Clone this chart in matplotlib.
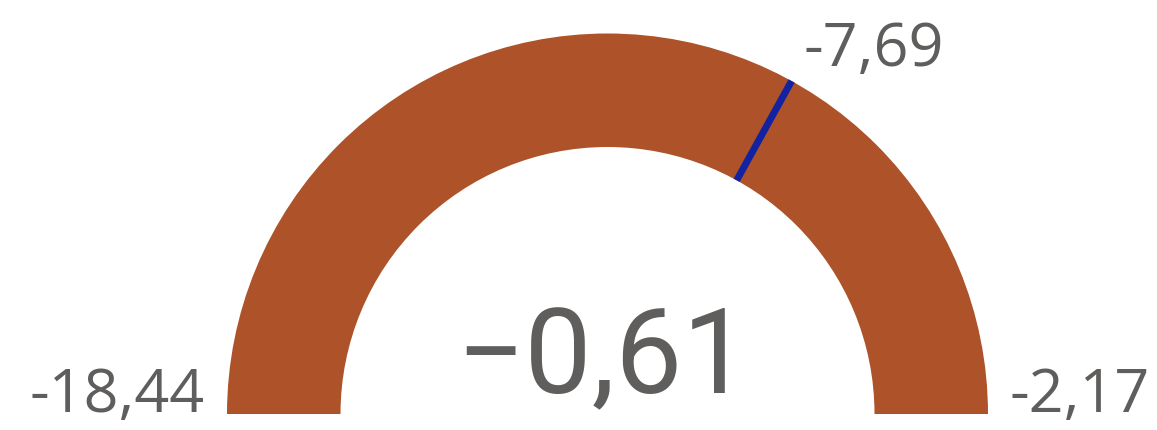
import numpy as np
import matplotlib.pyplot as plt
from matplotlib.patches import Wedge

# gauge values
gauge_min = -18.44
gauge_max = -2.17
gauge_value = -0.61
gauge_target = -7.69

fill_color = '#AD5229'
target_color = '#1322A0'
text_color = '#605E5C'


def fmt(v):
    # comma as decimal separator
    return f"{v:.2f}".replace('.', ',')


W, H = 1157, 431
fig = plt.figure(figsize=(W / 100, H / 100), dpi=100)
ax = fig.add_axes([0, 0, 1, 1])
ax.set_xlim(0, W)
ax.set_ylim(0, H)
ax.axis('off')

cx, cy = 607.5, H - 415
r_out, r_in = 380.5, 267

# fraction filled, clipped to the range
frac = np.clip((gauge_value - gauge_min) / (gauge_max - gauge_min), 0, 1)
ax.add_patch(Wedge((cx, cy), r_out, 180 - 180 * frac, 180, width=r_out - r_in,
                   facecolor=fill_color, edgecolor='none'))

# target marker
tfrac = (gauge_target - gauge_min) / (gauge_max - gauge_min)
ang = np.radians(180 - 180 * tfrac)
ax.plot([cx + r_in * np.cos(ang), cx + r_out * np.cos(ang)],
        [cy + r_in * np.sin(ang), cy + r_out * np.sin(ang)],
        color=target_color, lw=5, solid_capstyle='butt')

label_font = ['Open Sans', 'DejaVu Sans']
ax.text(205, H - 412, fmt(gauge_min), ha='right', va='baseline',
        fontsize=44, color=text_color, family=label_font)
ax.text(1010, H - 412, fmt(gauge_max), ha='left', va='baseline',
        fontsize=44, color=text_color, family=label_font)
ax.text(803, H - 66, fmt(gauge_target), ha='left', va='baseline',
        fontsize=44, color=text_color, family=label_font)

ax.text(603, H - 393, fmt(gauge_value).replace('-', '\u2212'), ha='center', va='baseline',
        fontsize=86, color=text_color,
        family=['Roboto', 'DejaVu Sans'])

fig.savefig('out.png', dpi=100)
